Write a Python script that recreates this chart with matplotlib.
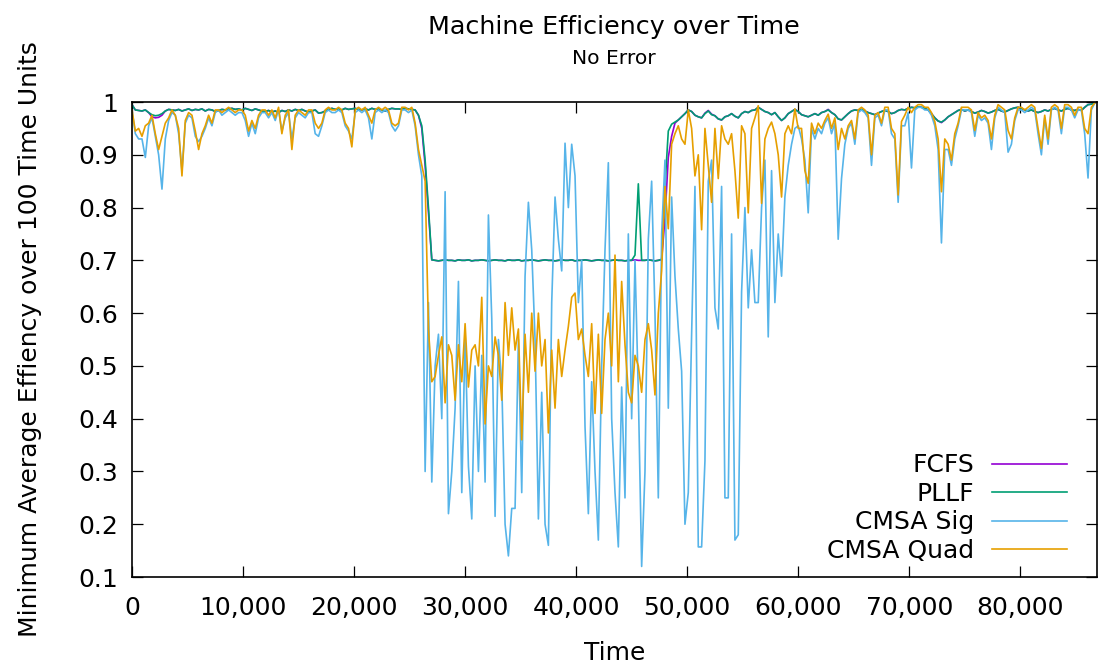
import numpy as np
import matplotlib
matplotlib.use("Agg")
import matplotlib.pyplot as plt
from matplotlib.ticker import FuncFormatter, MultipleLocator

# ------------------------------------------------------------
# Data (sampled every 300 time units, read off the reference)
# ------------------------------------------------------------
TIME_STEP = 300

fcfs = [
    0.995, 0.985, 0.984, 0.983, 0.985, 0.980, 0.972, 0.970, 0.971, 0.975,
    0.983, 0.986, 0.985, 0.984, 0.986, 0.983, 0.985, 0.987, 0.984, 0.986,
    0.985, 0.987, 0.983, 0.986, 0.985, 0.982, 0.984, 0.986, 0.985, 0.987,
    0.988, 0.986, 0.987, 0.985, 0.988, 0.986, 0.984, 0.987, 0.985, 0.983,
    0.982, 0.984, 0.981, 0.983, 0.980, 0.984, 0.982, 0.985, 0.983, 0.986,
    0.984, 0.986, 0.983, 0.981, 0.983, 0.985, 0.979, 0.980, 0.983, 0.986,
    0.988, 0.986, 0.987, 0.985, 0.988, 0.986, 0.987, 0.988, 0.986, 0.985,
    0.987, 0.985, 0.988, 0.986, 0.987, 0.985, 0.983, 0.986, 0.988, 0.987,
    0.987, 0.986, 0.988, 0.987, 0.986, 0.985, 0.975, 0.950, 0.880, 0.790,
    0.701, 0.700, 0.699, 0.700, 0.701, 0.700, 0.700, 0.699, 0.701, 0.700,
    0.700, 0.701, 0.699, 0.700, 0.700, 0.701, 0.700, 0.699, 0.700, 0.701,
    0.700, 0.700, 0.699, 0.701, 0.700, 0.700, 0.701, 0.699, 0.700, 0.700,
    0.701, 0.700, 0.699, 0.700, 0.701, 0.700, 0.700, 0.699, 0.700, 0.701,
    0.700, 0.700, 0.701, 0.699, 0.700, 0.700, 0.701, 0.700, 0.699, 0.700,
    0.701, 0.700, 0.700, 0.699, 0.700, 0.701, 0.700, 0.700, 0.699, 0.700,
    0.700, 0.701, 0.700, 0.700, 0.700, 0.701, 0.700, 0.699, 0.700, 0.701,
    0.780, 0.895, 0.935, 0.960, 0.966, 0.972, 0.978, 0.985, 0.982, 0.975,
    0.972, 0.970, 0.979, 0.984, 0.977, 0.974, 0.968, 0.966, 0.972, 0.974,
    0.978, 0.973, 0.970, 0.978, 0.982, 0.980, 0.984, 0.985, 0.990, 0.986,
    0.982, 0.980, 0.976, 0.980, 0.972, 0.965, 0.970, 0.978, 0.982, 0.986,
    0.982, 0.976, 0.974, 0.972, 0.975, 0.978, 0.975, 0.980, 0.982, 0.986,
    0.980, 0.976, 0.968, 0.966, 0.972, 0.978, 0.983, 0.985, 0.984, 0.986,
    0.983, 0.980, 0.978, 0.976, 0.979, 0.982, 0.984, 0.982, 0.978, 0.980,
    0.984, 0.986, 0.985, 0.988, 0.990, 0.989, 0.991, 0.990, 0.988, 0.985,
    0.978, 0.970, 0.964, 0.961, 0.966, 0.972, 0.976, 0.980, 0.984, 0.986,
    0.983, 0.985, 0.982, 0.979, 0.981, 0.984, 0.982, 0.979, 0.981, 0.984,
    0.986, 0.983, 0.981, 0.984, 0.987, 0.989, 0.990, 0.988, 0.985, 0.983,
    0.985, 0.982, 0.980, 0.982, 0.985, 0.983, 0.986, 0.988, 0.985, 0.983,
    0.986, 0.988, 0.985, 0.984, 0.986, 0.984, 0.990, 0.995, 0.996, 0.998,
]

pllf = [
    0.995, 0.985, 0.984, 0.983, 0.985, 0.980, 0.976, 0.974, 0.975, 0.978,
    0.983, 0.986, 0.985, 0.984, 0.986, 0.983, 0.985, 0.987, 0.984, 0.986,
    0.985, 0.987, 0.983, 0.986, 0.985, 0.982, 0.984, 0.986, 0.985, 0.987,
    0.988, 0.986, 0.987, 0.985, 0.988, 0.986, 0.984, 0.987, 0.985, 0.983,
    0.982, 0.984, 0.981, 0.983, 0.980, 0.984, 0.982, 0.985, 0.983, 0.986,
    0.984, 0.986, 0.983, 0.981, 0.983, 0.985, 0.979, 0.980, 0.983, 0.986,
    0.988, 0.986, 0.987, 0.985, 0.988, 0.986, 0.987, 0.988, 0.986, 0.985,
    0.987, 0.985, 0.988, 0.986, 0.987, 0.985, 0.983, 0.986, 0.988, 0.987,
    0.987, 0.986, 0.988, 0.987, 0.986, 0.985, 0.975, 0.955, 0.890, 0.800,
    0.701, 0.700, 0.699, 0.700, 0.701, 0.700, 0.700, 0.699, 0.701, 0.700,
    0.700, 0.701, 0.699, 0.700, 0.700, 0.701, 0.700, 0.699, 0.700, 0.701,
    0.700, 0.700, 0.699, 0.701, 0.700, 0.700, 0.701, 0.699, 0.700, 0.700,
    0.701, 0.700, 0.699, 0.700, 0.701, 0.700, 0.700, 0.699, 0.700, 0.701,
    0.700, 0.700, 0.701, 0.699, 0.700, 0.700, 0.701, 0.700, 0.699, 0.700,
    0.701, 0.700, 0.700, 0.699, 0.700, 0.701, 0.700, 0.700, 0.699, 0.700,
    0.700, 0.710, 0.845, 0.700, 0.700, 0.701, 0.700, 0.699, 0.700, 0.702,
    0.840, 0.945, 0.958, 0.962, 0.966, 0.972, 0.978, 0.985, 0.982, 0.975,
    0.972, 0.970, 0.978, 0.983, 0.976, 0.974, 0.968, 0.966, 0.972, 0.974,
    0.978, 0.973, 0.970, 0.978, 0.982, 0.980, 0.984, 0.985, 0.990, 0.986,
    0.982, 0.980, 0.976, 0.980, 0.972, 0.965, 0.970, 0.978, 0.982, 0.986,
    0.982, 0.976, 0.974, 0.972, 0.975, 0.978, 0.975, 0.980, 0.982, 0.985,
    0.980, 0.976, 0.968, 0.966, 0.972, 0.978, 0.983, 0.985, 0.984, 0.986,
    0.983, 0.980, 0.978, 0.976, 0.979, 0.982, 0.984, 0.982, 0.978, 0.980,
    0.984, 0.986, 0.985, 0.988, 0.990, 0.989, 0.991, 0.990, 0.988, 0.985,
    0.978, 0.970, 0.964, 0.962, 0.966, 0.972, 0.976, 0.980, 0.984, 0.986,
    0.983, 0.985, 0.982, 0.979, 0.981, 0.984, 0.982, 0.979, 0.981, 0.984,
    0.986, 0.983, 0.981, 0.984, 0.987, 0.989, 0.990, 0.988, 0.985, 0.983,
    0.985, 0.982, 0.980, 0.982, 0.985, 0.983, 0.986, 0.988, 0.985, 0.983,
    0.986, 0.988, 0.985, 0.984, 0.986, 0.984, 0.990, 0.995, 0.996, 0.998,
]

cmsa_sig = [
    0.985, 0.940, 0.930, 0.930, 0.895, 0.955, 0.970, 0.935, 0.900, 0.835,
    0.930, 0.965, 0.980, 0.975, 0.940, 0.870, 0.960, 0.975, 0.970, 0.935,
    0.925, 0.935, 0.950, 0.970, 0.955, 0.980, 0.985, 0.975, 0.980, 0.985,
    0.980, 0.975, 0.980, 0.980, 0.965, 0.935, 0.960, 0.940, 0.970, 0.980,
    0.980, 0.970, 0.980, 0.965, 0.985, 0.945, 0.970, 0.980, 0.930, 0.970,
    0.980, 0.975, 0.970, 0.980, 0.980, 0.940, 0.935, 0.955, 0.980, 0.985,
    0.980, 0.980, 0.985, 0.980, 0.955, 0.945, 0.930, 0.980, 0.985, 0.980,
    0.985, 0.970, 0.930, 0.980, 0.985, 0.980, 0.985, 0.980, 0.955, 0.945,
    0.955, 0.985, 0.985, 0.980, 0.985, 0.955, 0.900, 0.860, 0.300, 0.620,
    0.280, 0.500, 0.560, 0.400, 0.830, 0.220, 0.300, 0.420, 0.660, 0.260,
    0.560, 0.310, 0.210, 0.500, 0.300, 0.520, 0.280, 0.786, 0.590, 0.215,
    0.550, 0.470, 0.200, 0.140, 0.230, 0.230, 0.550, 0.260, 0.670, 0.810,
    0.720, 0.550, 0.210, 0.450, 0.200, 0.160, 0.620, 0.820, 0.740, 0.680,
    0.922, 0.800, 0.920, 0.860, 0.620, 0.700, 0.385, 0.220, 0.470, 0.300,
    0.170, 0.500, 0.720, 0.885, 0.400, 0.260, 0.157, 0.460, 0.250, 0.750,
    0.400, 0.700, 0.450, 0.120, 0.300, 0.740, 0.850, 0.600, 0.250, 0.750,
    0.890, 0.420, 0.820, 0.670, 0.570, 0.490, 0.200, 0.260, 0.560, 0.840,
    0.157, 0.157, 0.320, 0.850, 0.890, 0.610, 0.570, 0.840, 0.250, 0.250,
    0.750, 0.170, 0.180, 0.640, 0.800, 0.610, 0.720, 0.620, 0.620, 0.800,
    0.890, 0.555, 0.870, 0.620, 0.750, 0.670, 0.820, 0.880, 0.920, 0.950,
    0.955, 0.930, 0.890, 0.790, 0.950, 0.930, 0.950, 0.940, 0.960, 0.970,
    0.940, 0.960, 0.740, 0.855, 0.920, 0.950, 0.960, 0.920, 0.980, 0.985,
    0.980, 0.970, 0.880, 0.970, 0.975, 0.955, 0.985, 0.985, 0.940, 0.930,
    0.810, 0.955, 0.955, 0.980, 0.875, 0.985, 0.990, 0.990, 0.985, 0.985,
    0.975, 0.955, 0.910, 0.733, 0.910, 0.910, 0.880, 0.930, 0.955, 0.985,
    0.985, 0.985, 0.980, 0.935, 0.975, 0.965, 0.970, 0.960, 0.910, 0.970,
    0.990, 0.985, 0.980, 0.905, 0.920, 0.965, 0.985, 0.985, 0.980, 0.985,
    0.990, 0.985, 0.940, 0.900, 0.970, 0.920, 0.985, 0.990, 0.985, 0.940,
    0.990, 0.990, 0.985, 0.970, 0.985, 0.985, 0.940, 0.856, 0.985, 0.998,
]

cmsa_quad = [
    0.985, 0.945, 0.950, 0.935, 0.955, 0.960, 0.975, 0.940, 0.910, 0.935,
    0.960, 0.970, 0.985, 0.975, 0.950, 0.860, 0.965, 0.980, 0.975, 0.945,
    0.910, 0.940, 0.955, 0.975, 0.960, 0.985, 0.985, 0.980, 0.985, 0.990,
    0.985, 0.980, 0.985, 0.985, 0.975, 0.945, 0.965, 0.950, 0.975, 0.985,
    0.985, 0.975, 0.985, 0.970, 0.990, 0.940, 0.975, 0.985, 0.910, 0.975,
    0.985, 0.980, 0.975, 0.985, 0.985, 0.960, 0.950, 0.960, 0.985, 0.990,
    0.985, 0.985, 0.990, 0.985, 0.960, 0.950, 0.915, 0.985, 0.990, 0.985,
    0.990, 0.975, 0.960, 0.985, 0.990, 0.985, 0.990, 0.985, 0.960, 0.955,
    0.960, 0.990, 0.990, 0.985, 0.990, 0.960, 0.910, 0.880, 0.850, 0.570,
    0.470, 0.480, 0.520, 0.555, 0.430, 0.540, 0.520, 0.435, 0.540, 0.470,
    0.580, 0.460, 0.530, 0.540, 0.500, 0.630, 0.390, 0.500, 0.480, 0.555,
    0.520, 0.435, 0.620, 0.520, 0.610, 0.530, 0.570, 0.360, 0.560, 0.450,
    0.600, 0.490, 0.600, 0.500, 0.550, 0.373, 0.530, 0.420, 0.550, 0.480,
    0.530, 0.575, 0.630, 0.638, 0.550, 0.570, 0.520, 0.480, 0.580, 0.410,
    0.560, 0.410, 0.550, 0.600, 0.500, 0.710, 0.470, 0.660, 0.540, 0.450,
    0.430, 0.520, 0.500, 0.450, 0.550, 0.580, 0.530, 0.445, 0.600, 0.680,
    0.840, 0.760, 0.920, 0.940, 0.955, 0.930, 0.920, 0.985, 0.950, 0.860,
    0.900, 0.758, 0.950, 0.880, 0.810, 0.950, 0.855, 0.955, 0.930, 0.920,
    0.940, 0.870, 0.780, 0.955, 0.940, 0.790, 0.950, 0.970, 0.993, 0.808,
    0.930, 0.950, 0.962, 0.940, 0.900, 0.820, 0.940, 0.955, 0.940, 0.987,
    0.950, 0.950, 0.870, 0.846, 0.960, 0.940, 0.960, 0.950, 0.965, 0.977,
    0.950, 0.970, 0.910, 0.950, 0.930, 0.955, 0.965, 0.930, 0.985, 0.990,
    0.985, 0.975, 0.900, 0.975, 0.980, 0.960, 0.990, 0.990, 0.950, 0.940,
    0.824, 0.963, 0.975, 0.990, 0.980, 0.990, 0.995, 0.995, 0.990, 0.990,
    0.980, 0.963, 0.930, 0.830, 0.930, 0.920, 0.890, 0.940, 0.960, 0.990,
    0.990, 0.990, 0.985, 0.946, 0.980, 0.970, 0.975, 0.965, 0.930, 0.975,
    0.995, 0.990, 0.985, 0.946, 0.930, 0.970, 0.990, 0.990, 0.985, 0.990,
    0.995, 0.990, 0.950, 0.912, 0.975, 0.930, 0.990, 0.995, 0.990, 0.950,
    0.995, 0.995, 0.990, 0.975, 0.990, 0.990, 0.950, 0.940, 0.990, 0.998,
]

series_names = ["FCFS", "PLLF", "CMSA Sig", "CMSA Quad"]
series_colors = ["#9400d3", "#009e73", "#56b4e9", "#e69f00"]

time = np.arange(len(pllf)) * TIME_STEP


# ------------------------------------------------------------
# Plot
# ------------------------------------------------------------
plt.rcParams["font.family"] = "DejaVu Sans"

fig = plt.figure(figsize=(10.99, 6.69), dpi=100)
ax = fig.add_axes([0.1201, 0.1375, 0.8785, 0.710])

for name, color, values in zip(series_names, series_colors,
                               [fcfs, pllf, cmsa_sig, cmsa_quad]):
    ax.plot(time, values, color=color, linewidth=1.2, label=name)

ax.set_xlim(0, 86950)
ax.set_ylim(0.1, 1.0)
ax.xaxis.set_major_locator(MultipleLocator(10000))
ax.yaxis.set_major_locator(MultipleLocator(0.1))
ax.xaxis.set_major_formatter(FuncFormatter(lambda v, p: f"{v:,.0f}"))
ax.yaxis.set_major_formatter(FuncFormatter(lambda v, p: f"{v:g}"))

ax.tick_params(direction="in", length=8, width=0.9, labelsize=18,
               top=True, right=True)
ax.tick_params(axis="x", pad=14)
ax.tick_params(axis="y", pad=10)
for spine in ax.spines.values():
    spine.set_linewidth(1.2)

ax.set_xlabel("Time", fontsize=18)
ax.xaxis.set_label_coords(0.5, -0.135)
ax.set_ylabel("Minimum Average Effiency over 100 Time Units", fontsize=18)
ax.yaxis.set_label_coords(-0.093, 0.5)

fig.text(0.559, 0.9596, "Machine Efficiency over Time", ha="center",
         va="center", fontsize=18.3)
fig.text(0.559, 0.913, "No Error", ha="center", va="center", fontsize=14.6)

ax.legend(loc="lower right", bbox_to_anchor=(0.968, 0.03), frameon=False,
          markerfirst=False, fontsize=18, handlelength=3.0,
          handletextpad=0.7, labelspacing=0.18, borderpad=0.0,
          borderaxespad=0.0)

fig.savefig("out.png", dpi=100)
